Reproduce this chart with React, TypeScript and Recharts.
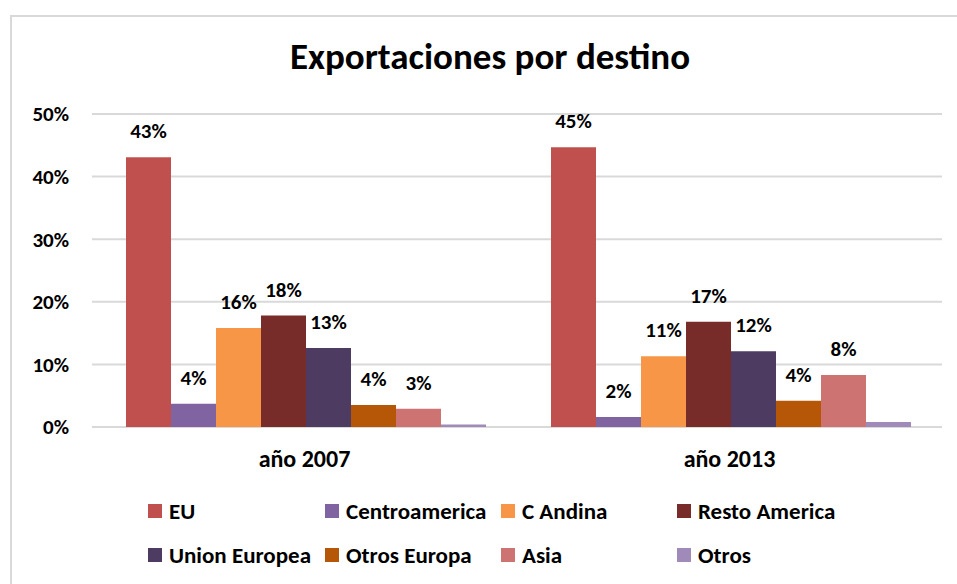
import React from "react";
import { BarChart, Bar, XAxis, YAxis, CartesianGrid, LabelList } from "recharts";

const years = ["año 2007", "año 2013"];
const destinos = ["EU", "Centroamerica", "C Andina", "Resto America", "Union Europea", "Otros Europa", "Asia", "Otros"];
const colores = ["#C0504D", "#8064A2", "#F79646", "#772C2A", "#4D3B62", "#B65708", "#CD7371", "#9F8AB9"];
const y2007 = [43.1, 3.7, 15.8, 17.8, 12.6, 3.5, 2.9, 0.4];
const y2013 = [44.7, 1.6, 11.3, 16.8, 12.1, 4.2, 8.3, 0.8];
const yTicks = [0, 10, 20, 30, 40, 50];

const FONT = "Carlito, Lato, sans-serif";

const data = years.map((year, i) => {
  const row: Record<string, string | number> = { year };
  const vals = i === 0 ? y2007 : y2013;
  destinos.forEach((d, j) => (row[d] = vals[j]));
  return row;
});

const fmtLabel = (v: any, hide: boolean) => (hide ? "" : `${Math.round(Number(v))}%`);

export default function App() {
  return (
    <div style={{ position: "absolute", left: 0, top: 0, width: 957, height: 584, overflow: "hidden", background: "#fff", fontFamily: FONT }}>
      <div style={{ position: "absolute", left: 10, top: 15, width: 1000, height: 700, border: "2px solid #d9d9d9" }} />
      <div style={{ position: "absolute", left: 0, top: 34, width: 980, textAlign: "center", fontSize: 37, fontWeight: 700, color: "#000" }}>
        Exportaciones por destino
      </div>
      <div style={{ position: "absolute", left: 0, top: 0 }}>
        <BarChart
          width={957}
          height={584}
          data={data}
          margin={{ top: 114, right: 15, left: 0, bottom: 117 }}
          barCategoryGap="8%"
          barGap={0}
        >
          <CartesianGrid vertical={false} stroke="#d9d9d9" strokeWidth={2} />
          <XAxis
            dataKey="year"
            height={40}
            axisLine={false}
            tickLine={false}
            tickMargin={17}
            tick={{ fill: "#000", fontSize: 24, fontWeight: 700, fontFamily: FONT }}
          />
          <YAxis
            width={92}
            domain={[0, 50]}
            ticks={yTicks}
            axisLine={false}
            tickLine={false}
            tickMargin={17}
            tickFormatter={(v) => `${v}%`}
            tick={{ fill: "#000", fontSize: 21, fontWeight: 700, fontFamily: FONT }}
          />
          {destinos.map((d, j) => (
            <Bar key={d} dataKey={d} fill={colores[j]} isAnimationActive={false}>
              <LabelList
                dataKey={d}
                position="top"
                offset={19}
                formatter={(v: any) => fmtLabel(v, d === "Otros")}
                style={{ fill: "#000", fontSize: 21, fontWeight: 700, fontFamily: FONT }}
              />
            </Bar>
          ))}
        </BarChart>
      </div>
      <div style={{ position: "absolute", left: 148, top: 496, display: "grid", gridTemplateColumns: "177px 176px 176px 200px", rowGap: 14 }}>
        {destinos.map((d, j) => (
          <div key={d} style={{ display: "flex", alignItems: "center", height: 30, fontSize: 23, fontWeight: 700, color: "#000", whiteSpace: "nowrap" }}>
            <span style={{ display: "inline-block", width: 14, height: 14, background: colores[j], marginRight: 7, flexShrink: 0 }} />
            {d}
          </div>
        ))}
      </div>
    </div>
  );
}
